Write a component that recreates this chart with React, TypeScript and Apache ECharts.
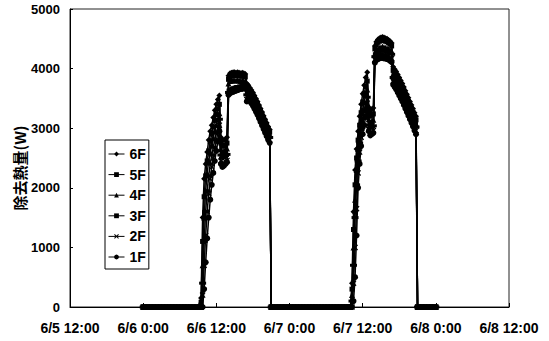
import React, { useEffect, useRef } from "react";
import * as echarts from "echarts";

// x values are hours counted from 6/5 12:00
const TICK_LABELS = ["6/5 12:00", "6/6 0:00", "6/6 12:00", "6/7 0:00", "6/7 12:00", "6/8 0:00", "6/8 12:00"];
const SERIES_NAMES = ["6F", "5F", "4F", "3F", "2F", "1F"];

// sampling (hours)
const NIGHT_STEP = 0.5;
const DAY_STEP = 0.25;
const NIGHT1_START = 12;
const DAY1_START = 21.5;
const NIGHT2_START = 33;
const DAY2_START = 45.5;
const NIGHT3_START = 57;

// night readings (W), common to all floors
const NIGHT1 = [0, 0, 0, 0, 0, 0, 0, 0, 0, 0, 0, 0, 0, 0, 0, 0, 0, 0, 0];
const NIGHT2 = [0, 0, 0, 0, 0, 0, 0, 0, 0, 0, 0, 0, 0, 0, 0, 0, 0, 0, 0, 0, 0, 0, 0, 0, 0];
const NIGHT3 = [0, 0, 0, 0, 0, 0, 0];

// day 1 (6/6) readings, W
const F6_DAY1 = [150, 1500, 2150, 2400, 2600, 2800, 2950, 3050, 3180, 3300, 3400, 3480, 3550,
  2850, 2800, 2800, 2820, 2850,
  3880, 3920, 3930, 3940, 3940, 3930, 3940, 3930, 3920, 3930, 3920, 3910,
  3750,
  3720, 3680, 3640, 3600, 3550, 3500, 3450, 3390, 3330, 3270, 3210, 3150, 3090, 3030, 2980];
const F5_DAY1 = [80, 1100, 1850, 2200, 2450, 2620, 2780, 2900, 3020, 3130, 3230, 3320, 3400,
  2750, 2700, 2700, 2720, 2750,
  3820, 3860, 3880, 3890, 3880, 3890, 3880, 3890, 3880, 3870, 3880, 3860,
  3700,
  3675, 3635, 3595, 3555, 3505, 3455, 3405, 3345, 3285, 3225, 3165, 3105, 3045, 2985, 2935];
const F4_DAY1 = [0, 700, 1500, 1950, 2250, 2450, 2600, 2730, 2850, 2960, 3060, 3150, 3250,
  2650, 2600, 2620, 2640, 2660,
  3750, 3790, 3800, 3810, 3800, 3800, 3810, 3800, 3790, 3800, 3790, 3780,
  3660,
  3630, 3590, 3550, 3510, 3460, 3410, 3360, 3300, 3240, 3180, 3120, 3060, 3000, 2940, 2890];
const F3_DAY1 = [0, 400, 1100, 1600, 1950, 2200, 2400, 2550, 2680, 2800, 2920, 3030, 3150,
  2550, 2500, 2520, 2540, 2560,
  3600, 3640, 3660, 3670, 3680, 3690, 3700, 3700, 3710, 3710, 3720, 3720,
  3560,
  3585, 3545, 3505, 3465, 3415, 3365, 3315, 3255, 3195, 3135, 3075, 3015, 2955, 2895, 2845];
const F2_DAY1 = [0, 200, 700, 1200, 1600, 1900, 2150, 2350, 2500, 2650, 2790, 2920, 3050,
  2450, 2400, 2420, 2440, 2460,
  3580, 3610, 3630, 3640, 3650, 3660, 3670, 3680, 3680, 3690, 3690, 3690,
  3480,
  3540, 3500, 3460, 3420, 3370, 3320, 3270, 3210, 3150, 3090, 3030, 2970, 2910, 2850, 2800];
const F1_DAY1 = [0, 0, 300, 750, 1150, 1500, 1800, 2050, 2250, 2450, 2620, 2780, 2950,
  2400, 2350, 2370, 2400, 2430,
  3560, 3590, 3600, 3610, 3620, 3630, 3640, 3650, 3660, 3660, 3670, 3670,
  3450,
  3495, 3455, 3415, 3375, 3325, 3275, 3225, 3165, 3105, 3045, 2985, 2925, 2865, 2805, 2755];

// day 2 (6/7) readings, W
const F6_DAY2 = [0, 0, 0, 400, 1600, 2300, 2650, 2950, 3200, 3400, 3580, 3720, 3850, 3940,
  3350, 3300, 3320, 3340,
  4380, 4450, 4490, 4510, 4520, 4530, 4520, 4510, 4500, 4480, 4460, 4430,
  4030, 3990, 3950, 3900, 3850, 3800, 3750, 3690, 3630, 3570, 3510, 3450, 3390, 3330, 3260, 3200];
const F5_DAY2 = [0, 0, 0, 300, 1300, 2050, 2500, 2800, 3050, 3260, 3440, 3580, 3700, 3790,
  3250, 3200, 3220, 3240,
  4330, 4400, 4440, 4460, 4470, 4480, 4470, 4460, 4450, 4430, 4410, 4380,
  3970, 3930, 3890, 3840, 3790, 3740, 3690, 3630, 3570, 3510, 3450, 3390, 3330, 3270, 3200, 3140];
const F4_DAY2 = [0, 0, 0, 200, 1000, 1800, 2300, 2650, 2900, 3120, 3300, 3440, 3560, 3650,
  3150, 3100, 3120, 3140,
  4250, 4300, 4330, 4350, 4360, 4370, 4360, 4350, 4340, 4330, 4310, 4290,
  3910, 3870, 3830, 3780, 3730, 3680, 3630, 3570, 3510, 3450, 3390, 3330, 3270, 3210, 3140, 3080];
const F3_DAY2 = [0, 0, 0, 100, 700, 1500, 2050, 2450, 2750, 2980, 3160, 3300, 3420, 3520,
  3050, 3000, 3020, 3040,
  4200, 4250, 4280, 4300, 4310, 4310, 4300, 4300, 4290, 4280, 4260, 4240,
  3850, 3810, 3770, 3720, 3670, 3620, 3570, 3510, 3450, 3390, 3330, 3270, 3210, 3150, 3080, 3020];
const F2_DAY2 = [0, 0, 0, 0, 400, 1000, 1650, 2250, 2600, 2850, 3030, 3180, 3300, 3420,
  2980, 2920, 2940, 2960,
  4150, 4190, 4210, 4230, 4240, 4240, 4230, 4230, 4220, 4210, 4190, 4170,
  3790, 3750, 3710, 3660, 3610, 3560, 3510, 3450, 3390, 3330, 3270, 3210, 3150, 3090, 3020, 2960];
const F1_DAY2 = [0, 0, 0, 0, 100, 500, 1200, 2000, 2400, 2700, 2900, 3050, 3200, 3350,
  2950, 2880, 2900, 2920,
  4100, 4140, 4160, 4170, 4180, 4180, 4170, 4170, 4160, 4150, 4130, 4110,
  3730, 3690, 3650, 3600, 3550, 3500, 3450, 3390, 3330, 3270, 3210, 3150, 3090, 3030, 2960, 2900];

const DAY1 = [F6_DAY1, F5_DAY1, F4_DAY1, F3_DAY1, F2_DAY1, F1_DAY1];
const DAY2 = [F6_DAY2, F5_DAY2, F4_DAY2, F3_DAY2, F2_DAY2, F1_DAY2];

const SYMBOLS = [
  "diamond",
  "rect",
  "triangle",
  "path://M0,0L10,0L10,3L0,3Z",
  "path://M0,1.5L1.5,0L5,3.5L8.5,0L10,1.5L6.5,5L10,8.5L8.5,10L5,6.5L1.5,10L0,8.5L3.5,5Z",
  "circle",
];
const SYMBOL_SIZES: any[] = [6, 5, 6, [7, 3], 6, 6];

const FONT = '"Liberation Sans", Arial, sans-serif';

function toPairs(start: number, step: number, values: number[]) {
  return values.map((v, i) => [start + i * step, v]);
}

export default function App() {
  const ref = useRef<HTMLDivElement>(null);
  useEffect(() => {
    if (!ref.current) return;
    const chart = echarts.init(ref.current, null, { renderer: "svg" });
    const series = SERIES_NAMES.map((name, i) => ({
      name,
      type: "line",
      data: [
        ...toPairs(NIGHT1_START, NIGHT_STEP, NIGHT1),
        ...toPairs(DAY1_START, DAY_STEP, DAY1[i]),
        ...toPairs(NIGHT2_START, NIGHT_STEP, NIGHT2),
        ...toPairs(DAY2_START, DAY_STEP, DAY2[i]),
        ...toPairs(NIGHT3_START, NIGHT_STEP, NIGHT3),
      ],
      symbol: SYMBOLS[i],
      symbolSize: SYMBOL_SIZES[i],
      showSymbol: true,
      lineStyle: { color: "#000", width: 1.5 },
      itemStyle: { color: "#000" },
      emphasis: { disabled: true },
      silent: true,
    }));
    chart.setOption({
      animation: false,
      backgroundColor: "#fff",
      grid: {
        left: 70,
        right: 40,
        top: 9,
        bottom: 34,
        show: true,
        borderColor: "#222",
        borderWidth: 1,
      },
      xAxis: {
        type: "value",
        min: 0,
        max: 72,
        interval: 12,
        axisLine: { show: true, lineStyle: { color: "#000", width: 1 } },
        axisTick: { show: true, inside: true, length: 4, lineStyle: { color: "#000" } },
        splitLine: { show: false },
        axisLabel: {
          margin: 14,
          fontFamily: FONT,
          fontSize: 14,
          fontWeight: "bold",
          color: "#000",
          formatter: (v: number) => TICK_LABELS[Math.round(v / 12)] ?? "",
        },
      },
      yAxis: {
        type: "value",
        min: 0,
        max: 5000,
        interval: 1000,
        axisLine: { show: true, lineStyle: { color: "#000", width: 1 } },
        axisTick: { show: true, inside: true, length: 3, lineStyle: { color: "#000" } },
        splitLine: { show: false },
        axisLabel: {
          margin: 10,
          fontFamily: FONT,
          fontSize: 13,
          fontWeight: "bold",
          color: "#000",
          formatter: (v: number) => String(v),
        },
      },
      legend: {
        orient: "vertical",
        left: 105,
        top: 140,
        data: SERIES_NAMES,
        backgroundColor: "#fff",
        borderColor: "#000",
        borderWidth: 1,
        padding: [7, 3, 5, 3],
        itemGap: 6.6,
        itemWidth: 16,
        itemHeight: 6,
        itemStyle: { color: "#000" },
        lineStyle: { color: "#000", width: 1 },
        textStyle: { fontFamily: FONT, fontSize: 14, fontWeight: "bold", color: "#000", lineHeight: 14 },
        selectedMode: false,
      },
      graphic: [
        {
          type: "text",
          x: 19,
          y: 168,
          rotation: Math.PI / 2,
          style: {
            text: "除去熱量(W)",
            fontFamily: '"Noto Sans CJK JP", sans-serif',
            fontSize: 15,
            fontWeight: "bold",
            fill: "#000",
            textAlign: "center",
            textVerticalAlign: "middle",
          },
        },
      ],
      series,
    });
    return () => chart.dispose();
  }, []);
  return <div ref={ref} style={{ width: 549, height: 341, position: "absolute", left: 0, top: 0 }} />;
}
